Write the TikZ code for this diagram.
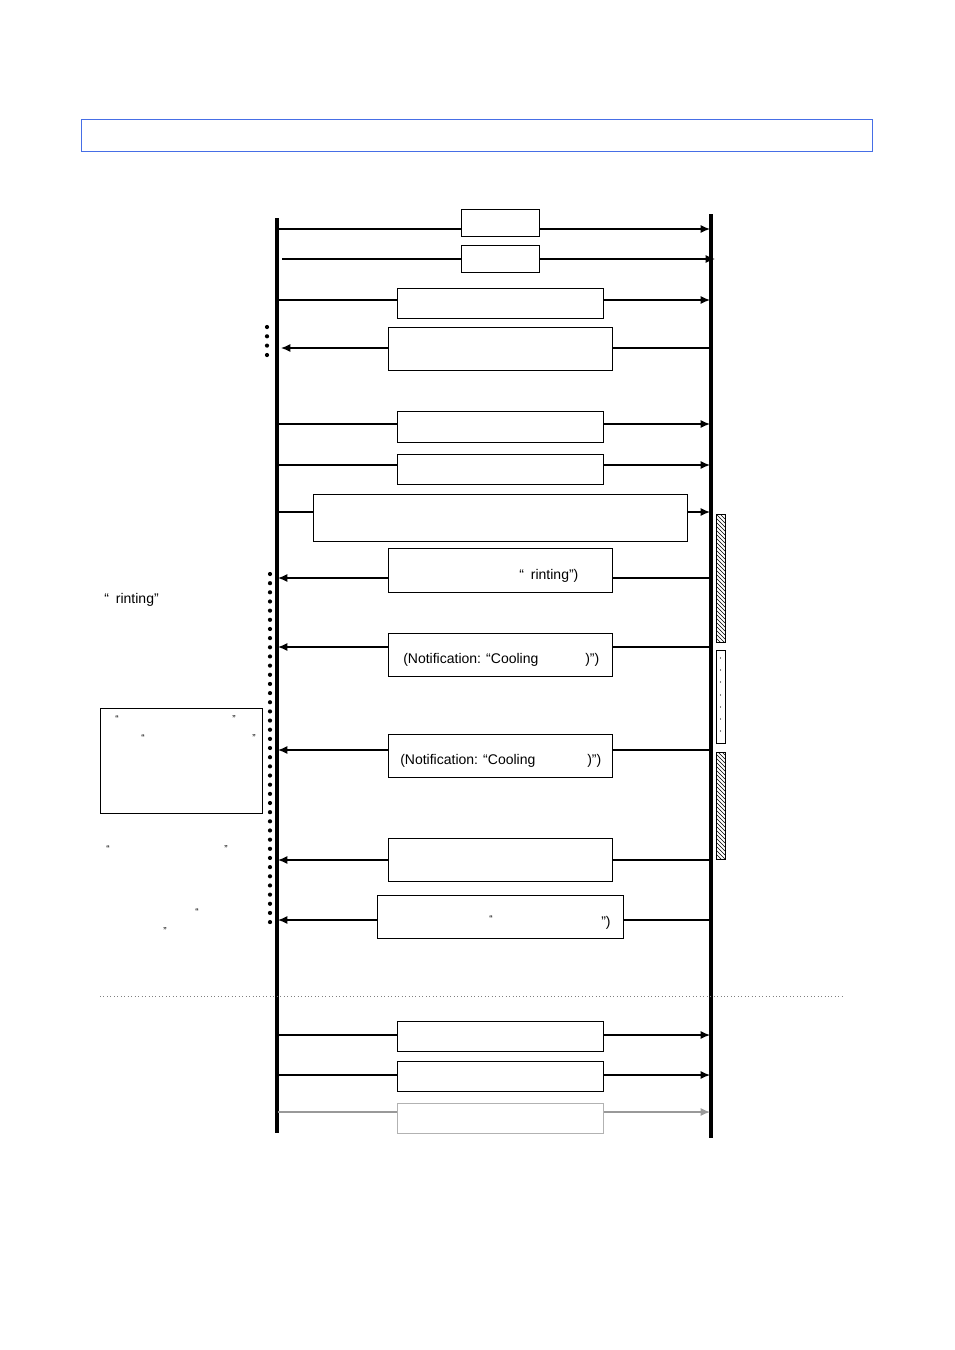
\documentclass[tikz,border=0pt]{standalone}
\usepackage{fontspec}
\setmainfont{Liberation Sans}
\usetikzlibrary{patterns,arrows.meta}
\definecolor{frameblue}{RGB}{70,110,230}
\begin{document}
\begin{tikzpicture}[x=0.75pt,y=-0.75pt,
  life/.style={line width=2.6pt},
  msg/.style={line width=0.9pt},
  mbox/.style={draw,line width=0.6pt,fill=white},
  tip/.style={-{Latex[length=7pt,width=6pt]}},
  txt/.style={font=\fontsize{10.5}{12}\selectfont,inner sep=0pt},
  qt/.style={font=\fontsize{7.5}{8}\selectfont,inner sep=0pt},
  hat/.style={draw,line width=0.6pt,pattern=north west lines}]
\useasboundingbox (0,0) rectangle (954,1350);
\draw[frameblue,line width=0.6pt] (81,119) rectangle (872,151);
\coordinate (L0) at (277,218); \coordinate (L1) at (277,1133);
\coordinate (R0) at (711,214); \coordinate (R1) at (711,1138);
\draw[life] (L0) -- (L1);
\draw[life] (R0) -- (R1);
% right-going messages
\foreach \y/\a/\b/\t/\u in {229/461/539/209/236, 300/397/603/288/318, 424/397/603/411/442, 465/397/603/454/484, 512/313/687/494/541, 1035/397/603/1021/1051, 1075/397/603/1061/1091}{
  \draw[msg,tip] (278,\y) -- (710,\y);
  \draw[mbox] (\a,\t) rectangle (\b,\u);
}
\draw[msg,tip] (282,259) -- (715,259);
\draw[mbox] (461,245) rectangle (539,272);
\draw[msg,tip,draw=gray!80,fill=gray!80] (278,1112) -- (710,1112);
\draw[mbox,draw=gray!60] (397,1103) rectangle (603,1133);
% left-going
\foreach \y/\e/\a/\b/\t/\u in {348/281/388/612/327/370, 578/278/388/612/548/592, 647/278/388/612/633/676, 750/278/388/612/734/777, 860/278/388/612/838/881, 920/278/377/623/895/938}{
  \draw[msg,tip] (710,\y) -- (\e,\y);
  \draw[mbox] (\a,\t) rectangle (\b,\u);
}
\node[txt,anchor=west] (t1) at (519,576) {“\,\,\,rinting”)};
\node[txt,anchor=west] (t2) at (403,660) {(Notification: “Cooling};
\node[txt,anchor=west] (t3) at (585,660) {)”)};
\node[txt,anchor=west] (t4) at (400,761) {(Notification: “Cooling};
\node[txt,anchor=west] (t5) at (587,761) {)”)};
\node[qt] (q1) at (491,919) {“};
\node[txt,anchor=west] (q2) at (601,923) {”)};
% left texts
\node[txt,anchor=west] (lt) at (104,600) {“\,\,\,rinting”};
\draw[line width=0.6pt] (100,708) rectangle (262,813);
\node[qt] at (117,719) {“}; \node[qt] at (234,719) {”};
\node[qt] at (143,738) {“}; \node[qt] at (254,738) {”};
\node[qt] at (108,849) {“}; \node[qt] at (226,849) {”};
\node[qt] at (197,912) {“}; \node[qt] at (165,931) {”};
% dots
\foreach \y in {327,336.3,345.6,355} \fill (267,\y) circle (2.1);
\foreach \i in {0,...,38} \fill (270,574+\i*9.16) circle (2.1);
% separator
\draw[dotted,line width=0.6pt,gray] (100,996) -- (845,996);
% right activation bars
\draw[hat] (716,514) rectangle (725,642);
\draw[line width=0.6pt] (716,650) rectangle (725,743);
\foreach \y in {658,670,682,695,707,719,731} \fill (720.5,\y) circle (0.6);
\draw[hat] (716,752) rectangle (725,859);
\end{tikzpicture}
\end{document}
